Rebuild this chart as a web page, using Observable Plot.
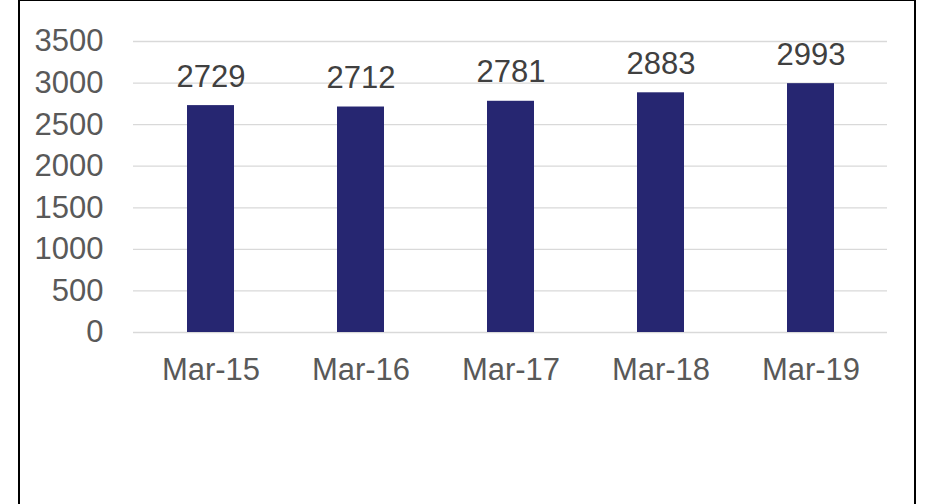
<!DOCTYPE html>
<html>
<head>
<meta charset="utf-8">
<script src="https://cdn.jsdelivr.net/npm/d3@7"></script>
<script src="https://cdn.jsdelivr.net/npm/@observablehq/plot@0.6"></script>
<style>
  html, body { margin: 0; padding: 0; background: #fff; }
  #wrap { position: relative; width: 928px; height: 504px; overflow: hidden; }
  #border { position: absolute; left: 18px; top: 0; width: 894px; height: 560px;
            border: 2px solid #000; border-top-width: 1px; pointer-events: none; box-sizing: content-box; }
  svg { font-family: "Liberation Sans", Arial, sans-serif; }
</style>
</head>
<body>
<div id="wrap"><div id="border"></div></div>
<script>
const categories = ["Mar-15", "Mar-16", "Mar-17", "Mar-18", "Mar-19"];
const values = [2729, 2712, 2781, 2883, 2993];
const yTicks = [0, 500, 1000, 1500, 2000, 2500, 3000, 3500];

const data = categories.map((c, i) => ({category: c, value: values[i]}));

const chart = Plot.plot({
  width: 928,
  height: 504,
  marginLeft: 133,
  marginRight: 41,
  marginTop: 41,
  marginBottom: 172,
  style: {fontFamily: "'Liberation Sans', Arial, sans-serif", background: "transparent"},
  x: {domain: categories, paddingInner: 0.69, paddingOuter: 0.345, label: null},
  y: {domain: [0, 3500], label: null},
  marks: [
    Plot.gridY(yTicks, {stroke: "#d9d9d9", strokeOpacity: 1, strokeWidth: 1.3}),
    Plot.barY(data, {x: "category", y: "value", fill: "#262671"}),
    Plot.text(data, {x: "category", y: "value", text: d => String(d.value),
      lineAnchor: "bottom", dy: -19, fontSize: 31, fill: "#404040"}),
    Plot.axisY(yTicks, {tickSize: 0, tickPadding: 30, fontSize: 31, color: "#595959", label: null,
      tickFormat: d => String(d)}),
    Plot.axisX({tickSize: 0, tickPadding: 25, fontSize: 31, color: "#595959", label: null})
  ]
});
document.getElementById("wrap").prepend(chart);
</script>
</body>
</html>
